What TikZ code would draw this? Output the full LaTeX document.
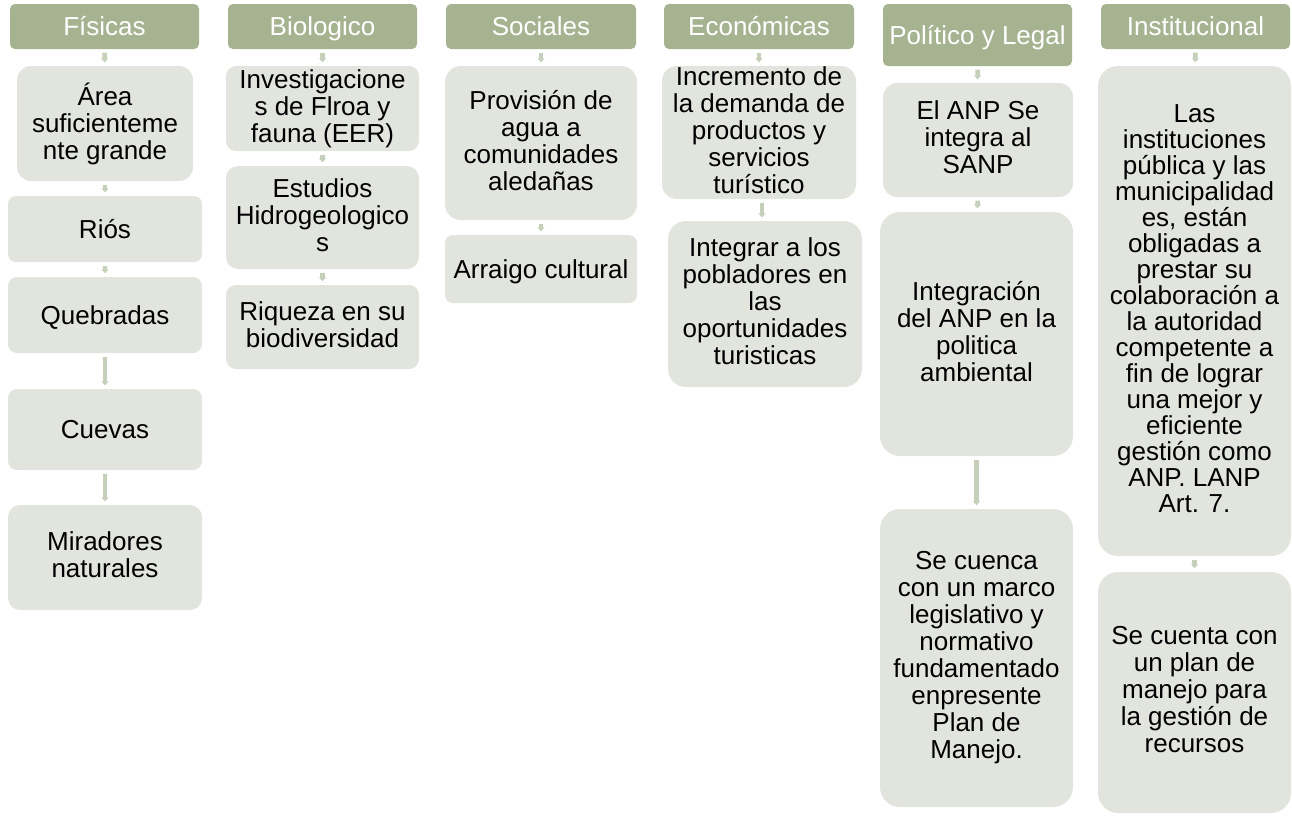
\documentclass[tikz,border=0pt]{standalone}
\usepackage{fontspec}
\setmainfont{Liberation Sans}
\usetikzlibrary{arrows.meta,calc}
\definecolor{hdr}{HTML}{A6B391}
\definecolor{bx}{HTML}{E2E5DD}
\definecolor{arr}{HTML}{C5CFBA}
\newcommand{\topstrut}{\rule{0pt}{23.5pt}}
\newcommand{\botstrut}{\rule[-5.5pt]{0pt}{5.5pt}}
\begin{document}
\begin{tikzpicture}[x=1pt,y=-1pt,
  hd/.style={fill=hdr, text=white, rounded corners=5pt, inner sep=0pt, align=center, font=\fontsize{26}{27}\selectfont,
    execute at begin node=\topstrut, execute at end node=\botstrut},
  bxs/.style={fill=bx, rounded corners=#1, inner sep=0pt, align=center, font=\fontsize{26}{27}\selectfont,
    execute at begin node=\topstrut, execute at end node=\botstrut},
  bxs/.default=12pt,
  conn/.style={draw=arr, line width=4.5pt, -{Triangle[width=7pt,length=4pt]}, shorten <=3.5pt, shorten >=3.5pt}
]
\path[use as bounding box] (0,0) rectangle (1292,815);

% Headers
\node[hd, minimum width=189pt, minimum height=45pt] (h1) at (104.5,26.5) {Físicas};
\node[hd, minimum width=189pt, minimum height=45pt] (h2) at (322.5,26.5) {Biologico};
\node[hd, minimum width=190pt, minimum height=45pt] (h3) at (541,26.5) {Sociales};
\node[hd, minimum width=190pt, minimum height=45pt] (h4) at (759,26.5) {Económicas};
\node[hd, minimum width=189pt, minimum height=62pt] (h5) at (977.5,35) {Político y Legal};
\node[hd, minimum width=189pt, minimum height=45pt] (h6) at (1195.5,26.5) {Institucional};

% Fisicas
\node[bxs=14pt, minimum width=176pt, minimum height=115pt] (f1) at (105,123.5) {Área\\suficienteme\\nte grande};
\node[bxs=8pt, minimum width=194pt, minimum height=66pt] (f2) at (105,229) {Riós};
\node[bxs=9pt, minimum width=194pt, minimum height=76pt] (f3) at (105,315) {Quebradas};
\node[bxs=9pt, minimum width=194pt, minimum height=81pt] (f4) at (105,429.5) {Cuevas};
\node[bxs=12pt, minimum width=194pt, minimum height=105pt] (f5) at (105,557.5) {Miradores\\naturales};

% Biologico
\node[bxs=10pt, minimum width=193pt, minimum height=85pt] (b1) at (322.5,108.5) {Investigacione\\s de Flroa y\\fauna (EER)};
\node[bxs=12pt, minimum width=193pt, minimum height=103pt] (b2) at (322.5,217.5) {Estudios\\Hidrogeologico\\s};
\node[bxs=10pt, minimum width=193pt, minimum height=84pt] (b3) at (322.5,327) {Riqueza en su\\biodiversidad};

% Sociales
\node[bxs=16pt, minimum width=192pt, minimum height=154pt] (s1) at (541,143) {Provisión de\\agua a\\comunidades\\aledañas};
\node[bxs=8pt, minimum width=192pt, minimum height=68pt] (s2) at (541,269) {Arraigo cultural};

% Economicas
\node[bxs=15pt, minimum width=194pt, minimum height=133pt] (e1) at (759,132.5) {Incremento de\\la demanda de\\productos y\\servicios\\turístico};
\node[bxs=18pt, minimum width=194pt, minimum height=166pt] (e2) at (765,304) {Integrar a los\\pobladores en\\las\\oportunidades\\turisticas};

% Politico y Legal
\node[bxs=14pt, minimum width=190pt, minimum height=114pt] (p1) at (978,140) {El ANP Se\\integra al\\SANP};
\node[bxs=20pt, minimum width=193pt, minimum height=244pt] (p2) at (976.5,334) {Integración\\del ANP en la\\politica\\ambiental};
\node[bxs=20pt, minimum width=193pt, minimum height=298pt] (p3) at (976.5,658) {Se cuenca\\con un marco\\legislativo y\\normativo\\fundamentado\\enpresente\\Plan de\\Manejo.};

% Institucional
\node[bxs=20pt, minimum width=193pt, minimum height=490pt, font=\fontsize{26}{26}\selectfont] (i1) at (1194.5,311) {Las\\instituciones\\pública y las\\municipalidad\\es, están\\obligadas a\\prestar su\\colaboración a\\la autoridad\\competente a\\fin de lograr\\una mejor y\\eficiente\\gestión como\\ANP. LANP\\Art. 7.};
\node[bxs=20pt, minimum width=193pt, minimum height=241pt] (i2) at (1194.5,692.5) {Se cuenta con\\un plan de\\manejo para\\la gestión de\\recursos};

% Connectors
\coordinate (ex) at (762,0);
\draw[conn] (h1) -- (f1);
\draw[conn] (f1) -- (f2);
\draw[conn] (f2) -- (f3);
\draw[conn] (f3) -- (f4);
\draw[conn] (f4) -- (f5);
\draw[conn] (h2) -- (b1);
\draw[conn] (b1) -- (b2);
\draw[conn] (b2) -- (b3);
\draw[conn] (h3) -- (s1);
\draw[conn] (s1) -- (s2);
\draw[conn] (h4) -- (e1);
\draw[conn] (e1.south -| ex) -- (e2.north -| ex);
\draw[conn] (h5) -- (p1);
\draw[conn] (p1) -- (p2);
\draw[conn] (p2) -- (p3);
\draw[conn] (h6) -- (i1);
\draw[conn] (i1) -- (i2);
\end{tikzpicture}
\end{document}
